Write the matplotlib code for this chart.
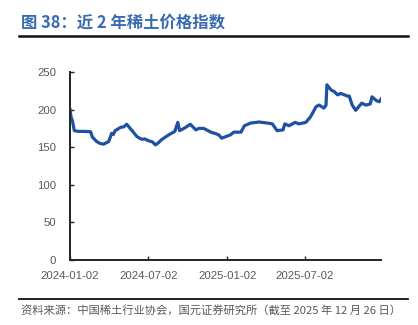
"""
Rare earth price index over the last two years (figure 38).
Values read off the reference chart.
"""
import pandas as pd
import matplotlib.pyplot as plt
import matplotlib.dates as mdates
from matplotlib.lines import Line2D

plt.rcParams['font.family'] = ['Liberation Sans', 'Noto Sans CJK SC', 'DejaVu Sans']

dates = [
    "2024-01-02", "2024-01-04", "2024-01-08", "2024-01-12", "2024-01-22", "2024-02-05",
    "2024-02-19", "2024-02-23", "2024-03-04", "2024-03-12", "2024-03-20", "2024-04-01",
    "2024-04-08", "2024-04-12", "2024-04-16", "2024-04-22", "2024-04-29", "2024-05-06",
    "2024-05-13", "2024-05-24", "2024-06-06", "2024-06-12", "2024-06-17", "2024-06-24",
    "2024-07-03", "2024-07-12", "2024-07-19", "2024-07-26", "2024-08-02", "2024-08-19",
    "2024-09-02", "2024-09-09", "2024-09-13", "2024-09-20", "2024-09-26", "2024-10-08",
    "2024-10-21", "2024-10-28", "2024-11-08", "2024-11-25", "2024-12-06", "2024-12-13",
    "2024-12-20", "2025-01-10", "2025-01-17", "2025-02-03", "2025-02-11", "2025-02-25",
    "2025-03-17", "2025-04-07", "2025-04-17", "2025-04-28", "2025-05-12", "2025-05-16",
    "2025-05-26", "2025-06-09", "2025-06-18", "2025-07-04", "2025-07-15", "2025-07-28",
    "2025-08-04", "2025-08-15", "2025-08-20", "2025-08-22", "2025-09-01", "2025-09-08",
    "2025-09-16", "2025-09-23", "2025-10-09", "2025-10-13", "2025-10-20", "2025-10-28",
    "2025-11-11", "2025-11-21", "2025-12-01", "2025-12-05", "2025-12-15", "2025-12-22",
    "2025-12-26",
]
index_values = [
    200, 191, 184, 172, 171, 171,
    170.5, 163.5, 157.5, 155, 154, 157.5,
    168.5, 167, 172, 174, 176.5, 177,
    180.5, 173, 164, 162, 160.5, 161,
    158.5, 157, 153, 156, 160, 166.5,
    171, 183, 172, 174, 176, 180.5,
    173, 175, 175, 170, 168, 166.5,
    162, 166.5, 170, 170, 178.5, 182,
    183.5, 182, 181, 172, 173, 181,
    178.5, 183, 181, 183, 190.5, 204,
    206, 202, 206, 233, 226, 224,
    219.5, 221.5, 218, 218, 206, 199,
    208.5, 206, 207.5, 217, 212, 210.5,
    214,
]
tick_dates = ["2024-01-02", "2024-07-02", "2025-01-02", "2025-07-02"]
y_ticks = [0, 50, 100, 150, 200, 250]

x = pd.to_datetime(dates)

fig = plt.figure(figsize=(4.18, 3.25), dpi=100)
ax = fig.add_axes([0.1675, 0.2, 0.744, 0.5785])

ax.plot(x, index_values, color="#1f51a3", linewidth=2.3, solid_joinstyle="round")

ax.set_xlim(x[0], x[-1])
ax.set_ylim(0, 250)
ax.set_yticks(y_ticks)
ax.set_xticks(pd.to_datetime(tick_dates))
ax.xaxis.set_major_formatter(mdates.DateFormatter("%Y-%m-%d"))

for side in ("top", "right"):
    ax.spines[side].set_visible(False)
for side in ("left", "bottom"):
    ax.spines[side].set_color("#222222")
    ax.spines[side].set_linewidth(1.4)
ax.tick_params(axis="both", direction="in", length=3, width=1, color="#222222",
               labelcolor="#595959", labelsize=8.2)
ax.tick_params(axis="y", pad=10)
ax.tick_params(axis="x", pad=8)

# title, rules and source note
fig.text(0.05, 1 - 22.5 / 325, "图 38：近 2 年稀土价格指数", color="#3a6bb0",
         fontsize=11.8, fontweight="bold", va="center", ha="left",
         family=["Noto Sans CJK SC", "DejaVu Sans"])
fig.add_artist(Line2D([19 / 418, 408 / 418], [1 - 35.5 / 325] * 2,
                      color="#111111", linewidth=1.8))
fig.add_artist(Line2D([19 / 418, 408 / 418], [1 - 299 / 325] * 2,
                      color="#111111", linewidth=1.3))
fig.text(0.05, 1 - 311 / 325,
         "资料来源：中国稀土行业协会，国元证券研究所（截至 2025 年 12 月 26 日）",
         color="#595959", fontsize=8.1, va="center", ha="left",
         family=["Noto Sans CJK SC", "DejaVu Sans"])

fig.savefig("out.png", dpi=100)
